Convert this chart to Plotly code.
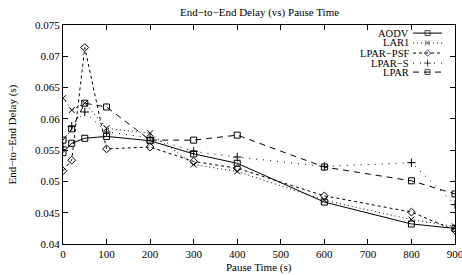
import plotly.graph_objects as go

pause_time = [0, 20, 50, 100, 200, 300, 400, 600, 800, 900]
aodv     = [0.0546, 0.0561, 0.0569, 0.0572, 0.0565, 0.0544, 0.0529, 0.0467, 0.0432, 0.0425]
lar1     = [0.0633, 0.0614, 0.0625, 0.0585, 0.0577, 0.0527, 0.0516, 0.0470, 0.0439, 0.0428]
lpar_psf = [0.0517, 0.0534, 0.0714, 0.0552, 0.0555, 0.0532, 0.0521, 0.0477, 0.0451, 0.0422]
lpar_s   = [0.0555, 0.0588, 0.0611, 0.0579, 0.0570, 0.0548, 0.0539, 0.0524, 0.0530, 0.0463]
lpar     = [0.0566, 0.0584, 0.0625, 0.0619, 0.0566, 0.0566, 0.0574, 0.0523, 0.0501, 0.0480]

series_names = ["AODV", "LAR1", "LPAR\u2212PSF", "LPAR\u2212S", "LPAR"]
series_values = [aodv, lar1, lpar_psf, lpar_s, lpar]
symbols = ["square-open", "x-thin-open", "diamond-open", "cross-thin-open", "square-open"]
dashes = ["solid", "1px,3px", "3px,3px", "1px,6px", "6px,5px"]

FONT = "Liberation Serif, Times New Roman, serif"
TXT = dict(family=FONT, size=11, color="black")

fig = go.Figure()
for name, vals, sym, dash in zip(series_names, series_values, symbols, dashes):
    fig.add_trace(go.Scatter(
        x=pause_time, y=vals, mode="lines+markers", name=name,
        line=dict(color="black", width=1, dash=dash),
        marker=dict(symbol=sym, size=6, color="black", line=dict(color="black", width=1)),
        showlegend=False,
    ))

# custom compact legend (text on the left, sample on the right, like gnuplot)
leg_y = [0.963, 0.918, 0.872, 0.826, 0.785]
for name, sym, dash, yy in zip(series_names, symbols, dashes, leg_y):
    fig.add_trace(go.Scatter(
        x=[0.893, 0.930, 0.967], y=[yy, yy, yy], xaxis="x2", yaxis="y2",
        mode="lines+markers", showlegend=False, hoverinfo="skip",
        line=dict(color="black", width=1, dash=dash),
        marker=dict(symbol=sym, size=[0, 5, 0], color="black", line=dict(color="black", width=1)),
    ))
    fig.add_annotation(x=0.885, y=yy, xref="x2", yref="y2", text=name, showarrow=False,
                       xanchor="right", yanchor="middle", font=dict(family=FONT, size=10.5, color="black"),
                       borderpad=0)

fig.add_annotation(x=0.5, y=1.0, xref="paper", yref="paper", yshift=13, text="End\u2212to\u2212End Delay (vs) Pause Time",
                   showarrow=False, xanchor="center", yanchor="middle", font=TXT)
fig.add_annotation(x=0.5, y=0.0, xref="paper", yref="paper", yshift=-23, text="Pause Time (s)",
                   showarrow=False, xanchor="center", yanchor="middle", font=TXT)
fig.add_annotation(x=0.0, y=0.5, xref="paper", yref="paper", xshift=-51, text="End\u2212to\u2212End Delay (s)",
                   showarrow=False, xanchor="center", yanchor="middle", textangle=-90, font=TXT)

axis_common = dict(showline=True, linecolor="black", linewidth=1, mirror="ticks",
                   ticks="inside", ticklen=5, tickcolor="black", showgrid=False, zeroline=False,
                   automargin=False, tickfont=TXT, ticklabeloverflow="allow")

fig.update_layout(
    width=462, height=275,
    margin=dict(l=63, r=7, t=25, b=31, autoexpand=False),
    paper_bgcolor="white", plot_bgcolor="white",
    font=TXT,
    xaxis=dict(range=[0, 900], dtick=100, tick0=0, **axis_common),
    yaxis=dict(range=[0.04, 0.075], dtick=0.005, tick0=0.04, **axis_common),
    xaxis2=dict(range=[0, 1], overlaying="x", visible=False),
    yaxis2=dict(range=[0, 1], overlaying="y", visible=False),
    showlegend=False,
)

fig.write_html("out.html", config={"displayModeBar": False, "staticPlot": True},
               post_script="document.body.style.margin='0';document.body.style.overflow='hidden';")
